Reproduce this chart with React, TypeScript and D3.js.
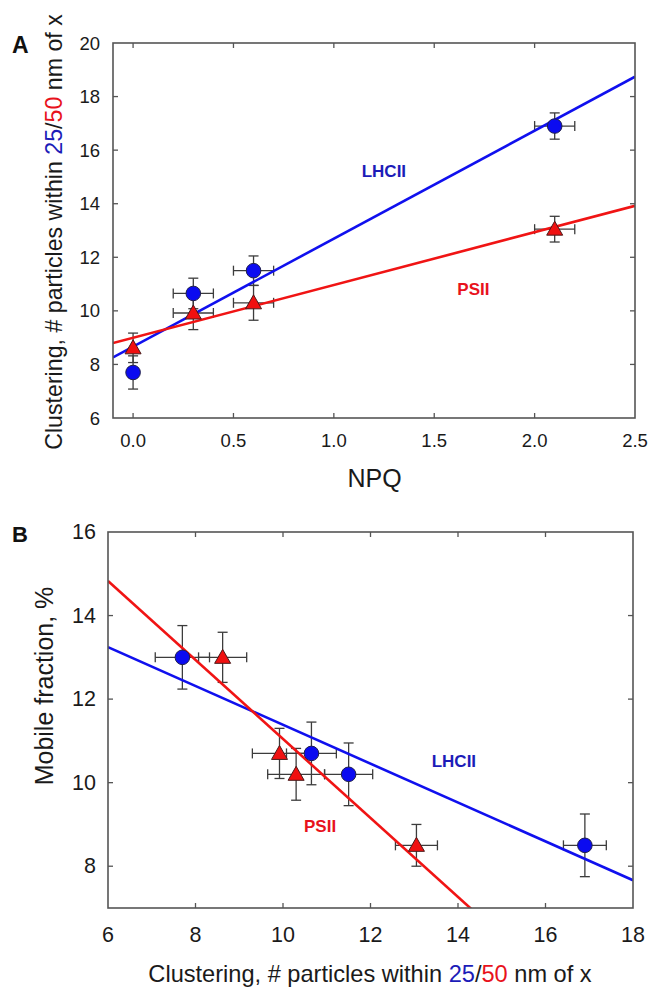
import React from "react";
import * as d3 from "d3";

// ---------- data ----------
const npq = [0.0, 0.3, 0.6, 2.1];
const npqErr = [0, 0.1, 0.1, 0.1];
const lhciiClustering = [7.7, 10.65, 11.5, 16.9];
const lhciiClusteringErr = [0.62, 0.57, 0.55, 0.49];
const psiiClustering = [8.62, 9.92, 10.3, 13.05];
const psiiClusteringErr = [0.55, 0.62, 0.65, 0.48];
const lhciiMobile = [13.0, 10.7, 10.2, 8.5];
const lhciiMobileErr = [0.76, 0.75, 0.75, 0.75];
const psiiMobile = [13.0, 10.7, 10.2, 8.5];
const psiiMobileErr = [0.6, 0.6, 0.62, 0.5];

const npqTicks = [0, 0.5, 1.0, 1.5, 2.0, 2.5];
const clusterTicksA = [6, 8, 10, 12, 14, 16, 18, 20];
const clusterTicksB = [6, 8, 10, 12, 14, 16, 18];
const mobileTicks = [8, 10, 12, 14, 16];

// ---------- styles ----------
const FONT = "'Liberation Sans', Arial, Helvetica, sans-serif";
const BLUE_LINE = "#1010ee";
const RED_LINE = "#f01414";
const BLUE_FILL = "#0b0bf0";
const RED_FILL = "#f01010";
const BLUE_TEXT = "#1c1cb8";
const RED_TEXT = "#e8121c";
const FRAME = "#555555";
const ERR = "#3c3c3c";

function fit(xs: number[], ys: number[]) {
  const mx = d3.mean(xs) as number;
  const my = d3.mean(ys) as number;
  let sxy = 0, sxx = 0;
  xs.forEach((x, i) => {
    sxy += (x - mx) * (ys[i] - my);
    sxx += (x - mx) * (x - mx);
  });
  const slope = sxy / sxx;
  return { slope, intercept: my - slope * mx };
}

type Series = {
  xs: number[];
  xErr: number[];
  ys: number[];
  yErr: number[];
  marker: "circle" | "triangle";
  line: string;
  fill: string;
};

function Panel(props: {
  id: string;
  x: d3.ScaleLinear<number, number>;
  y: d3.ScaleLinear<number, number>;
  xTicks: number[];
  yTicks: number[];
  xFmt: (v: number) => string;
  tickFont: number;
  xLabelBaseline: number;
  yLabelRight: number;
  series: Series[];
}) {
  const { id, x, y, xTicks, yTicks, xFmt, tickFont, series } = props;
  const [x0, x1] = x.range();
  const [y0, y1] = y.range(); // y0 bottom, y1 top
  const [dx0, dx1] = x.domain();
  const tl = 5;
  const innerX = xTicks.filter((t) => x(t) > x0 + 1 && x(t) < x1 - 1);
  const innerY = yTicks.filter((t) => y(t) < y0 - 1 && y(t) > y1 + 1);
  return (
    <g>
      <defs>
        <clipPath id={`clip-${id}`}>
          <rect x={x0} y={y1} width={x1 - x0} height={y0 - y1} />
        </clipPath>
      </defs>
      {/* error bars */}
      {series.map((s, si) =>
        s.xs.map((xv, i) => {
          const cx = x(xv);
          const cy = y(s.ys[i]);
          const ex = s.xErr[i];
          const ey = s.yErr[i];
          return (
            <g key={`e${si}-${i}`} stroke={ERR} strokeWidth={1.3} fill="none">
              {ey > 0 && (
                <>
                  <line x1={cx} x2={cx} y1={y(s.ys[i] - ey)} y2={y(s.ys[i] + ey)} />
                  <line x1={cx - 5} x2={cx + 5} y1={y(s.ys[i] - ey)} y2={y(s.ys[i] - ey)} />
                  <line x1={cx - 5} x2={cx + 5} y1={y(s.ys[i] + ey)} y2={y(s.ys[i] + ey)} />
                </>
              )}
              {ex > 0 && (
                <>
                  <line x1={x(xv - ex)} x2={x(xv + ex)} y1={cy} y2={cy} />
                  <line x1={x(xv - ex)} x2={x(xv - ex)} y1={cy - 5} y2={cy + 5} />
                  <line x1={x(xv + ex)} x2={x(xv + ex)} y1={cy - 5} y2={cy + 5} />
                </>
              )}
            </g>
          );
        })
      )}
      {/* regression lines */}
      <g clipPath={`url(#clip-${id})`}>
        {series.map((s, si) => {
          const f = fit(s.xs, s.ys);
          const pts = [dx0, dx1];
          const path = d3
            .line<number>()
            .x((d) => x(d))
            .y((d) => y(f.intercept + f.slope * d))(pts);
          return <path key={`l${si}`} d={path || ""} stroke={s.line} strokeWidth={2.6} fill="none" />;
        })}
      </g>
      {/* markers */}
      {series.map((s, si) =>
        s.xs.map((xv, i) => {
          const cx = x(xv);
          const cy = y(s.ys[i]);
          if (s.marker === "circle")
            return <circle key={`m${si}-${i}`} cx={cx} cy={cy} r={7.3} fill={s.fill} stroke="#20204a" strokeWidth={1} />;
          const w = 16, h = 14;
          const tri = d3.path();
          tri.moveTo(cx, cy - h / 2 - 1);
          tri.lineTo(cx + w / 2, cy + h / 2 - 1);
          tri.lineTo(cx - w / 2, cy + h / 2 - 1);
          tri.closePath();
          return <path key={`m${si}-${i}`} d={tri.toString()} fill={s.fill} stroke="#4a1a1a" strokeWidth={1} />;
        })
      )}
      {/* frame */}
      <rect x={x0} y={y1} width={x1 - x0} height={y0 - y1} fill="none" stroke={FRAME} strokeWidth={1.6} />
      {/* ticks */}
      <g stroke={FRAME} strokeWidth={1.3}>
        {innerX.map((t) => (
          <g key={`tx${t}`}>
            <line x1={x(t)} x2={x(t)} y1={y0} y2={y0 - tl} />
            <line x1={x(t)} x2={x(t)} y1={y1} y2={y1 + tl} />
          </g>
        ))}
        {innerY.map((t) => (
          <g key={`ty${t}`}>
            <line x1={x0} x2={x0 + tl} y1={y(t)} y2={y(t)} />
            <line x1={x1} x2={x1 - tl} y1={y(t)} y2={y(t)} />
          </g>
        ))}
      </g>
      {/* tick labels */}
      <g fontFamily={FONT} fontSize={tickFont} fill="#1a1a1a">
        {xTicks.map((t) => (
          <text key={`lx${t}`} x={x(t)} y={props.xLabelBaseline} textAnchor="middle">
            {xFmt(t)}
          </text>
        ))}
        {yTicks.map((t) => (
          <text key={`ly${t}`} x={props.yLabelRight} y={y(t)} textAnchor="end" dominantBaseline="central">
            {t}
          </text>
        ))}
      </g>
    </g>
  );
}

export default function App() {
  const xA = d3.scaleLinear().domain([-0.1, 2.5]).range([113, 635]);
  const yA = d3.scaleLinear().domain([6, 20]).range([418, 43]);
  const xB = d3.scaleLinear().domain([6, 18]).range([108, 633]);
  const yB = d3.scaleLinear().domain([7, 16]).range([908, 532]);

  const seriesA: Series[] = [
    { xs: npq, xErr: npqErr, ys: lhciiClustering, yErr: lhciiClusteringErr, marker: "circle", line: BLUE_LINE, fill: BLUE_FILL },
    { xs: npq, xErr: npqErr, ys: psiiClustering, yErr: psiiClusteringErr, marker: "triangle", line: RED_LINE, fill: RED_FILL },
  ];
  const seriesB: Series[] = [
    { xs: lhciiClustering, xErr: lhciiClusteringErr, ys: lhciiMobile, yErr: lhciiMobileErr, marker: "circle", line: BLUE_LINE, fill: BLUE_FILL },
    { xs: psiiClustering, xErr: psiiClusteringErr, ys: psiiMobile, yErr: psiiMobileErr, marker: "triangle", line: RED_LINE, fill: RED_FILL },
  ];

  return (
    <svg
      width={651}
      height={987}
      viewBox="0 0 651 987"
      style={{ position: "absolute", left: 0, top: 0, background: "#ffffff" }}
    >
      <rect x={0} y={0} width={651} height={987} fill="#ffffff" />
      {/* Panel A */}
      <Panel
        id="A"
        x={xA}
        y={yA}
        xTicks={npqTicks}
        yTicks={clusterTicksA}
        xFmt={(v) => d3.format(".1f")(v)}
        tickFont={18.5}
        xLabelBaseline={447}
        yLabelRight={100}
        series={seriesA}
      />
      <text x={12} y={53} fontFamily={FONT} fontWeight="bold" fontSize={23} fill="#111">A</text>
      <text
        transform="translate(62,232) rotate(-90)"
        textAnchor="middle"
        fontFamily={FONT}
        fontSize={23.2}
        fill="#1a1a1a"
      >
        Clustering, # particles within <tspan fill={BLUE_TEXT}>25</tspan>/<tspan fill={RED_TEXT}>50</tspan> nm of x
      </text>
      <text x={374.5} y={486.5} textAnchor="middle" fontFamily={FONT} fontSize={25} fill="#1a1a1a">NPQ</text>
      <text x={361.7} y={176.5} fontFamily={FONT} fontWeight="bold" fontSize={17} fill={BLUE_TEXT}>LHCII</text>
      <text x={457.3} y={295} fontFamily={FONT} fontWeight="bold" fontSize={17} fill={RED_TEXT}>PSII</text>

      {/* Panel B */}
      <Panel
        id="B"
        x={xB}
        y={yB}
        xTicks={clusterTicksB}
        yTicks={mobileTicks}
        xFmt={(v) => String(v)}
        tickFont={21.5}
        xLabelBaseline={942}
        yLabelRight={96}
        series={seriesB}
      />
      <text x={12} y={542} fontFamily={FONT} fontWeight="bold" fontSize={22} fill="#111">B</text>
      <text
        transform="translate(53,686) rotate(-90)"
        textAnchor="middle"
        fontFamily={FONT}
        fontSize={25}
        fill="#1a1a1a"
      >
        Mobile fraction, %
      </text>
      <text
        x={370}
        y={981.5}
        textAnchor="middle"
        fontFamily={FONT}
        fontSize={23.6}
        fill="#1a1a1a"
      >
        Clustering, # particles within <tspan fill={BLUE_TEXT}>25</tspan>/<tspan fill={RED_TEXT}>50</tspan> nm of x
      </text>
      <text x={431.7} y={766.5} fontFamily={FONT} fontWeight="bold" fontSize={17} fill={BLUE_TEXT}>LHCII</text>
      <text x={304} y={831.5} fontFamily={FONT} fontWeight="bold" fontSize={17} fill={RED_TEXT}>PSII</text>
    </svg>
  );
}
